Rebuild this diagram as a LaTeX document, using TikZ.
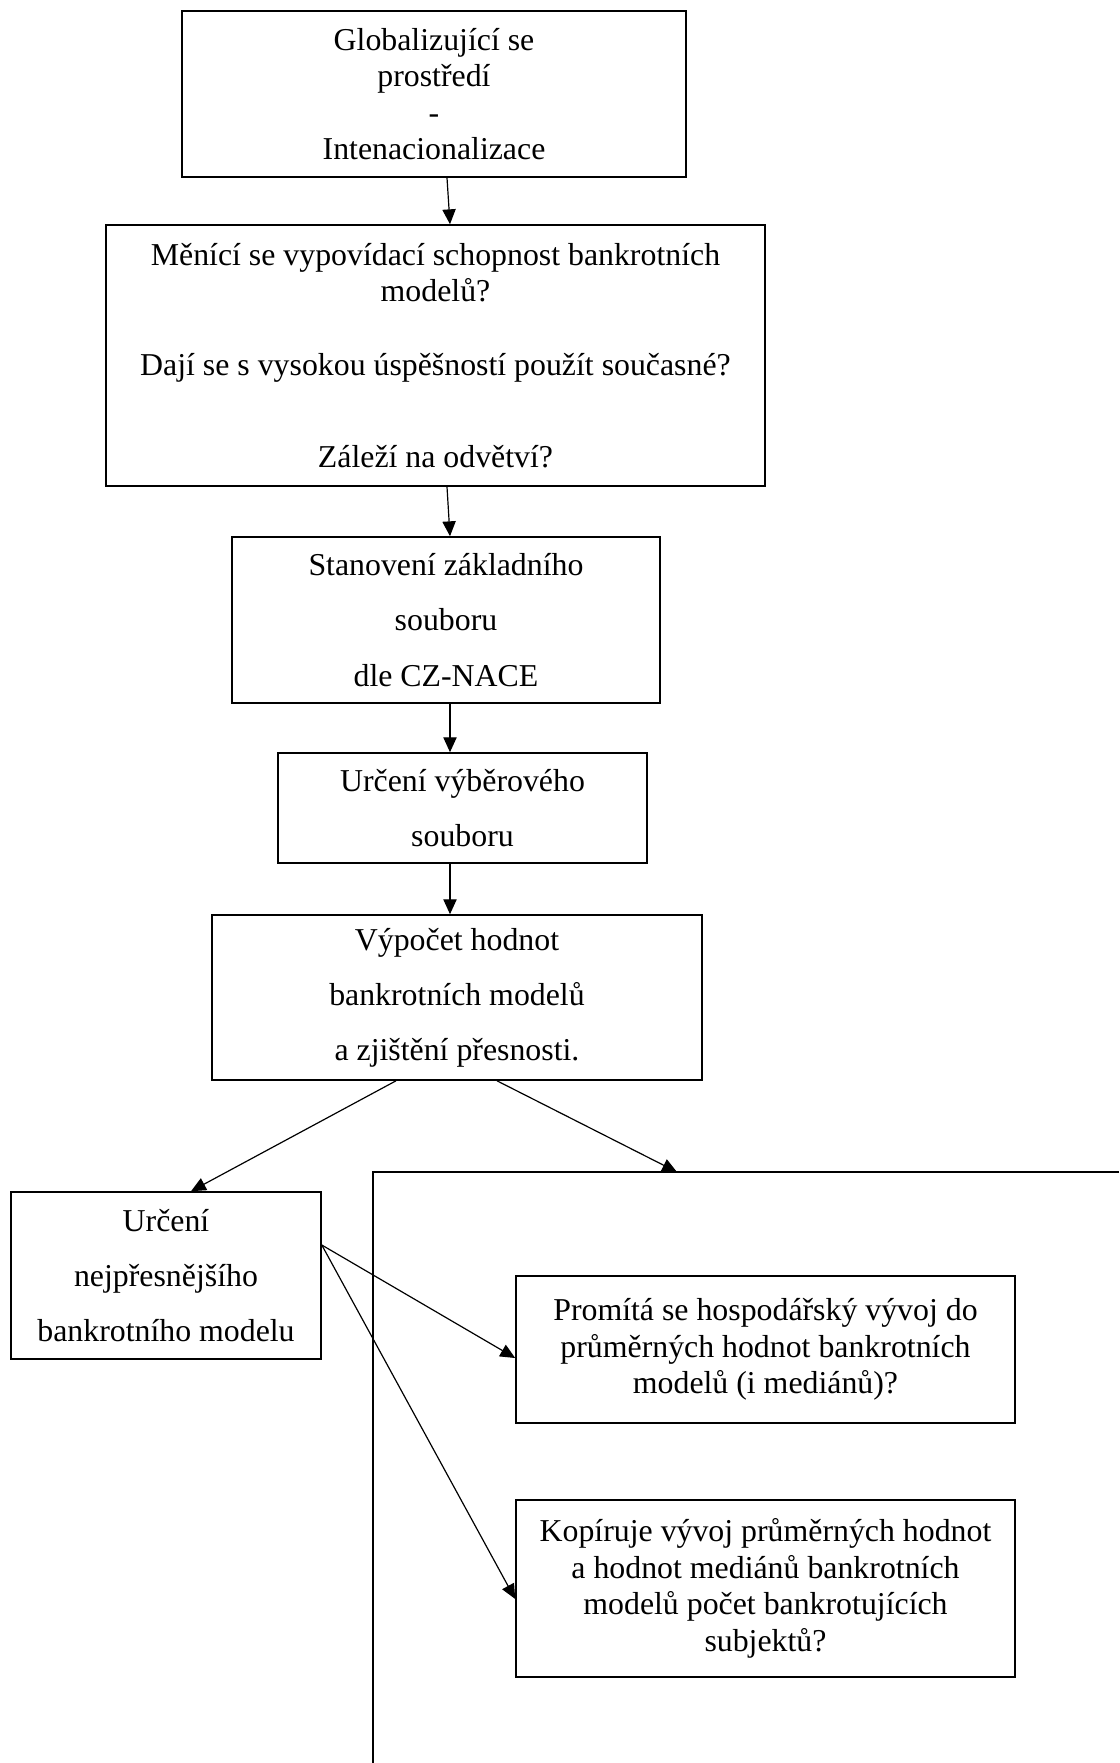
\documentclass[tikz,border=0pt]{standalone}
\usepackage{fontspec}
\setmainfont{Liberation Serif}
\usetikzlibrary{arrows.meta,calc}
\begin{document}
\begin{tikzpicture}[x=0.377pt, y=-0.377pt,
	font=\fontsize{12}{13.8}\selectfont,
	box/.style={draw, line width=0.6pt, align=center, inner sep=0pt},
	boxsize/.style 2 args={minimum width=#1*0.377pt, minimum height=#2*0.377pt},
	arr/.style={-{Triangle[length=5.6pt,width=5pt]}, line width=0.45pt}]
	\useasboundingbox (0,0) rectangle (1119,1763);
	% main column
	\node[box, boxsize={504}{166}] (glob) at (434,94) {Globalizující se\\ prostředí\\ -\\ Intenacionalizace};
	\node[box, boxsize={659}{261}] (zmena) at (435.5,355.5) {Měnící se vypovídací schopnost bankrotních\\ modelů?\\[14pt]
		Dají se s vysokou úspěšností použít současné?\\[21pt] Záleží na odvětví?};
	\node[box, boxsize={428}{166}] (zaklad) at (446,620) {Stanovení základního\\[7pt] souboru\\[7pt] dle CZ-NACE};
	\node[box, boxsize={369}{110}] (vyber) at (462.5,808) {Určení výběrového\\[7pt] souboru};
	\node[box, boxsize={490}{165}] (vypocet) at (457,997.5) {Výpočet hodnot\\[7pt] bankrotních modelů\\[7pt] a zjištění přesnosti.};
	% lower part
	\node[box, boxsize={310}{167}] (urceni) at (166,1275.5) {Určení\\[7pt] nejpřesnějšího\\[7pt] bankrotního modelu};
	\node[box, boxsize={499}{147}] (promita) at (765.5,1349.5) {Promítá se hospodářský vývoj do\\ průměrných hodnot bankrotních\\ modelů (i mediánů)?};
	\node[box, boxsize={499}{177}] (kopiruje) at (765.5,1588.5) {Kopíruje vývoj průměrných hodnot\\ a hodnot mediánů bankrotních\\ modelů počet bankrotujících\\ subjektů?};
	\coordinate (ramec) at (373,1172);
	\coordinate (ramecvstup) at (677,1172);
	\draw[line width=0.6pt] (1119,1172) -- (ramec) -- (373,1763);
	% arrows
	\draw[arr] ($(glob.south)+(13,0)$) -- ($(zmena.north)+(14.5,0)$);
	\draw[arr] ($(zmena.south)+(11.5,0)$) -- ($(zaklad.north)+(4,0)$);
	\draw[arr] ($(zaklad.south)+(4,0)$) -- ($(vyber.north)+(-12.5,0)$);
	\draw[arr] ($(vyber.south)+(-12.5,0)$) -- ($(vypocet.north)+(-7,0)$);
	\draw[arr] ($(vypocet.south)+(-61,0)$) -- ($(urceni.north)+(25,0)$);
	\draw[arr] ($(vypocet.south)+(40,0)$) -- (ramecvstup);
	\draw[arr] ($(urceni.east)+(0,-30.5)$) -- ($(promita.west)+(0,8.5)$);
	\draw[arr] ($(urceni.east)+(0,-30.5)$) -- ($(kopiruje.west)+(0,10.5)$);
\end{tikzpicture}
\end{document}
